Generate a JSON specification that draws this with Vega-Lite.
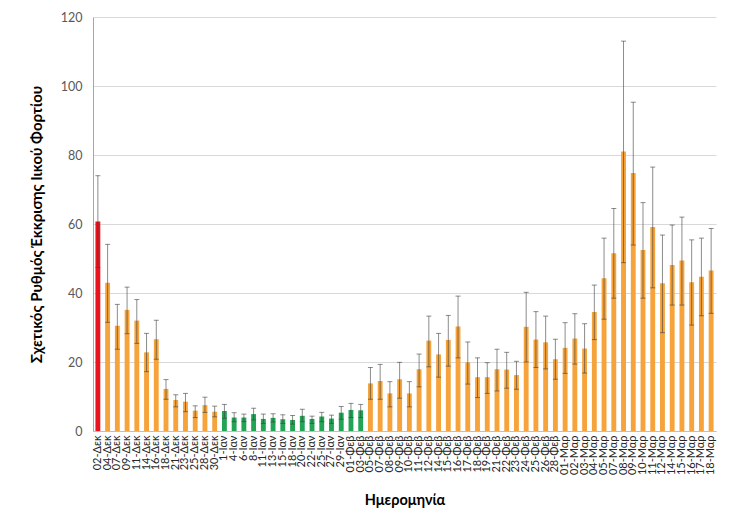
{
  "$schema": "https://vega.github.io/schema/vega-lite/v6.json",
  "autosize": {"type": "none"},
  "width": 623,
  "height": 414,
  "padding": {"left": 93, "top": 17, "right": 15, "bottom": 100},
  "background": "white",
  "config": {
    "view": {"stroke": null},
    "font": "Lato",
    "axis": {"labelFont": "Lato", "titleFont": "Lato"}
  },
  "data": {
    "values": [
      {"d": "02-Δεκ", "v": 60.7, "lo": 47.4, "hi": 74.0, "g": "r"},
      {"d": "04-Δεκ", "v": 43.0, "lo": 31.5, "hi": 54.1, "g": "o"},
      {"d": "07-Δεκ", "v": 30.5, "lo": 23.7, "hi": 36.7, "g": "o"},
      {"d": "09-Δεκ", "v": 35.1, "lo": 28.2, "hi": 41.7, "g": "o"},
      {"d": "11-Δεκ", "v": 32.0, "lo": 25.4, "hi": 38.1, "g": "o"},
      {"d": "14-Δεκ", "v": 22.8, "lo": 17.2, "hi": 28.3, "g": "o"},
      {"d": "16-Δεκ", "v": 26.6, "lo": 20.8, "hi": 32.1, "g": "o"},
      {"d": "18-Δεκ", "v": 12.2, "lo": 9.2, "hi": 14.9, "g": "o"},
      {"d": "21-Δεκ", "v": 9.0, "lo": 7.0, "hi": 10.5, "g": "o"},
      {"d": "23-Δεκ", "v": 8.5, "lo": 5.6, "hi": 10.9, "g": "o"},
      {"d": "25-Δεκ", "v": 5.9, "lo": 3.9, "hi": 7.3, "g": "o"},
      {"d": "28-Δεκ", "v": 7.5, "lo": 5.4, "hi": 9.8, "g": "o"},
      {"d": "30-Δεκ", "v": 5.6, "lo": 4.1, "hi": 7.2, "g": "o"},
      {"d": "1-Ιαν", "v": 5.8, "lo": 3.7, "hi": 7.7, "g": "g"},
      {"d": "4-Ιαν", "v": 3.9, "lo": 2.7, "hi": 5.3, "g": "g"},
      {"d": "6-Ιαν", "v": 3.9, "lo": 2.7, "hi": 4.9, "g": "g"},
      {"d": "8-Ιαν", "v": 4.9, "lo": 3.2, "hi": 6.6, "g": "g"},
      {"d": "11-Ιαν", "v": 3.5, "lo": 2.2, "hi": 4.9, "g": "g"},
      {"d": "13-Ιαν", "v": 3.8, "lo": 2.6, "hi": 5.0, "g": "g"},
      {"d": "15-Ιαν", "v": 3.4, "lo": 2.2, "hi": 4.7, "g": "g"},
      {"d": "18-Ιαν", "v": 3.2, "lo": 2.0, "hi": 4.5, "g": "g"},
      {"d": "20-Ιαν", "v": 4.4, "lo": 2.7, "hi": 6.3, "g": "g"},
      {"d": "22-Ιαν", "v": 3.5, "lo": 2.2, "hi": 4.3, "g": "g"},
      {"d": "25-Ιαν", "v": 4.2, "lo": 2.7, "hi": 5.4, "g": "g"},
      {"d": "27-Ιαν", "v": 3.6, "lo": 2.2, "hi": 4.6, "g": "g"},
      {"d": "29-Ιαν", "v": 5.3, "lo": 3.4, "hi": 7.1, "g": "g"},
      {"d": "01-Φεβ", "v": 6.1, "lo": 3.9, "hi": 8.0, "g": "g"},
      {"d": "03-Φεβ", "v": 6.0, "lo": 3.9, "hi": 7.7, "g": "g"},
      {"d": "05-Φεβ", "v": 13.8, "lo": 9.2, "hi": 18.4, "g": "o"},
      {"d": "07-Φεβ", "v": 14.5, "lo": 9.2, "hi": 19.3, "g": "o"},
      {"d": "08-Φεβ", "v": 10.9, "lo": 7.0, "hi": 14.3, "g": "o"},
      {"d": "09-Φεβ", "v": 15.0, "lo": 9.5, "hi": 19.9, "g": "o"},
      {"d": "10-Φεβ", "v": 10.9, "lo": 7.0, "hi": 14.3, "g": "o"},
      {"d": "11-Φεβ", "v": 17.9, "lo": 12.8, "hi": 22.3, "g": "o"},
      {"d": "12-Φεβ", "v": 26.2, "lo": 18.6, "hi": 33.3, "g": "o"},
      {"d": "14-Φεβ", "v": 22.2, "lo": 15.6, "hi": 28.3, "g": "o"},
      {"d": "15-Φεβ", "v": 26.4, "lo": 18.8, "hi": 33.5, "g": "o"},
      {"d": "16-Φεβ", "v": 30.3, "lo": 21.2, "hi": 39.1, "g": "o"},
      {"d": "17-Φεβ", "v": 19.9, "lo": 13.6, "hi": 25.8, "g": "o"},
      {"d": "18-Φεβ", "v": 15.6, "lo": 9.7, "hi": 21.2, "g": "o"},
      {"d": "19-Φεβ", "v": 15.6, "lo": 10.9, "hi": 19.8, "g": "o"},
      {"d": "21-Φεβ", "v": 17.9, "lo": 11.6, "hi": 23.7, "g": "o"},
      {"d": "22-Φεβ", "v": 17.8, "lo": 12.4, "hi": 22.8, "g": "o"},
      {"d": "23-Φεβ", "v": 16.2, "lo": 12.1, "hi": 20.2, "g": "o"},
      {"d": "24-Φεβ", "v": 30.2, "lo": 20.0, "hi": 40.2, "g": "o"},
      {"d": "25-Φεβ", "v": 26.5, "lo": 18.4, "hi": 34.6, "g": "o"},
      {"d": "26-Φεβ", "v": 25.7, "lo": 18.0, "hi": 33.3, "g": "o"},
      {"d": "28-Φεβ", "v": 20.8, "lo": 15.0, "hi": 26.6, "g": "o"},
      {"d": "01-Μαρ", "v": 24.1, "lo": 16.7, "hi": 31.4, "g": "o"},
      {"d": "02-Μαρ", "v": 26.8, "lo": 19.4, "hi": 34.0, "g": "o"},
      {"d": "03-Μαρ", "v": 23.9, "lo": 16.8, "hi": 31.1, "g": "o"},
      {"d": "04-Μαρ", "v": 34.5, "lo": 26.5, "hi": 42.3, "g": "o"},
      {"d": "05-Μαρ", "v": 44.3, "lo": 32.4, "hi": 55.9, "g": "o"},
      {"d": "07-Μαρ", "v": 51.5, "lo": 38.5, "hi": 64.5, "g": "o"},
      {"d": "08-Μαρ", "v": 81.0, "lo": 48.8, "hi": 113.0, "g": "o"},
      {"d": "09-Μαρ", "v": 74.8, "lo": 53.9, "hi": 95.3, "g": "o"},
      {"d": "10-Μαρ", "v": 52.5, "lo": 38.5, "hi": 66.2, "g": "o"},
      {"d": "11-Μαρ", "v": 59.1, "lo": 41.5, "hi": 76.5, "g": "o"},
      {"d": "12-Μαρ", "v": 42.8, "lo": 28.5, "hi": 56.8, "g": "o"},
      {"d": "14-Μαρ", "v": 48.1, "lo": 36.5, "hi": 59.7, "g": "o"},
      {"d": "15-Μαρ", "v": 49.4, "lo": 36.5, "hi": 62.0, "g": "o"},
      {"d": "16-Μαρ", "v": 43.1, "lo": 30.7, "hi": 55.4, "g": "o"},
      {"d": "17-Μαρ", "v": 44.7, "lo": 33.4, "hi": 55.9, "g": "o"},
      {"d": "18-Μαρ", "v": 46.5, "lo": 34.1, "hi": 58.7, "g": "o"}
    ]
  },
  "encoding": {
    "x": {
      "field": "d",
      "type": "nominal",
      "sort": null,
      "scale": {"paddingInner": 0.5, "paddingOuter": 0.25},
      "axis": {
        "title": "Ημερομηνία",
        "titleFontSize": 14.5,
        "titleFontWeight": "bold",
        "titleColor": "#000000",
        "titleY": 69,
        "titleBaseline": "middle",
        "labelAngle": -90,
        "labelAlign": "right",
        "labelBaseline": "middle",
        "labelFontSize": 11,
        "labelColor": "#262626",
        "labelPadding": 4,
        "labelOverlap": false,
        "ticks": false,
        "domainColor": "#bfbfbf",
        "domainWidth": 1
      }
    }
  },
  "layer": [
    {
      "mark": {"type": "bar"},
      "encoding": {
        "y": {
          "field": "v",
          "type": "quantitative",
          "scale": {"domain": [0, 120], "nice": false},
          "axis": {
            "title": "Σχετικός Ρυθμός Έκκρισης Ιικού Φορτίου",
            "titleFontSize": 15,
            "titleFontWeight": "bold",
            "titleColor": "#000000",
            "titleAngle": -90,
            "titleX": -57,
            "titleY": 207,
            "titleAlign": "center",
            "titleBaseline": "middle",
            "values": [0, 20, 40, 60, 80, 100, 120],
            "labelFontSize": 12.5,
            "labelColor": "#595959",
            "labelPadding": 11,
            "ticks": false,
            "grid": true,
            "gridColor": "#d9d9d9",
            "domainColor": "#a6a6a6"
          }
        },
        "color": {
          "field": "g",
          "type": "nominal",
          "scale": {"domain": ["r", "o", "g"], "range": ["#e8131c", "#f5a33a", "#22a455"]},
          "legend": null
        }
      }
    },
    {
      "mark": {"type": "rule", "color": "#404040", "opacity": 0.6, "strokeWidth": 1},
      "encoding": {
        "y": {"field": "lo", "type": "quantitative"},
        "y2": {"field": "hi"}
      }
    },
    {
      "mark": {"type": "tick", "color": "#404040", "opacity": 0.6, "size": 5, "thickness": 1},
      "encoding": {"y": {"field": "lo", "type": "quantitative"}}
    },
    {
      "mark": {"type": "tick", "color": "#404040", "opacity": 0.6, "size": 5, "thickness": 1},
      "encoding": {"y": {"field": "hi", "type": "quantitative"}}
    }
  ]
}
